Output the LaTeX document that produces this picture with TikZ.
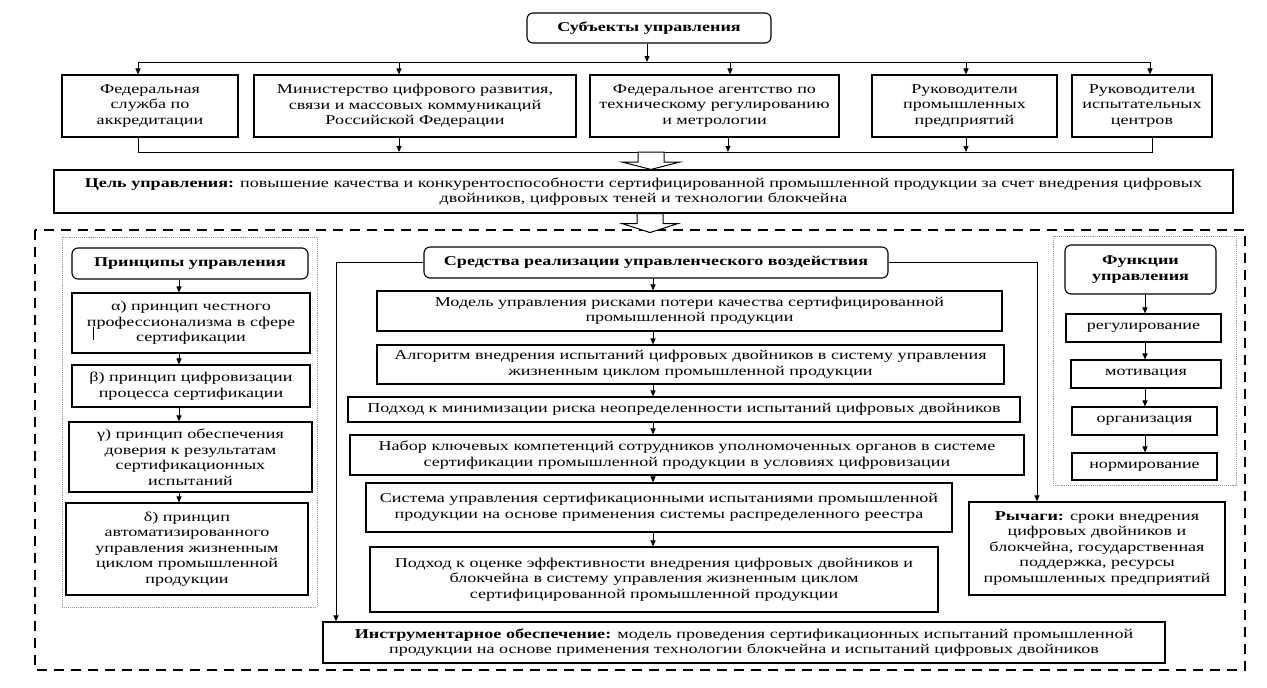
\documentclass[tikz,border=0pt]{standalone}
\usepackage{fontspec}
\setmainfont{Liberation Serif}[FakeStretch=1.34]
\usetikzlibrary{arrows.meta,calc}
\newcommand{\fs}{\fontsize{13.5}{15.5}\selectfont}
\begin{document}
\begin{tikzpicture}[x=1pt,y=-1pt,
 box/.style={draw,line width=1.1pt,align=center,inner sep=0pt,font=\fs},
 rbox/.style={box,rounded corners=6pt},
 arr/.style={line width=1pt,-{Triangle[length=6pt,width=5pt]}},
 ln/.style={line width=1pt},
 dotbox/.style={draw=gray!80,densely dotted,line width=0.9pt},
 hollow/.style={draw,line width=1pt,fill=white,line join=miter},
 bigdash/.style={draw,line width=2.2pt,dash pattern=on 10pt off 7pt},
]
\useasboundingbox (0,0) rectangle (1267,688);
\fill[white] (0,0) rectangle (1267,688);

% ---- top part
\node[rbox,minimum width=244pt,minimum height=30pt] (subj) at (649,28) {\textbf{Субъекты управления}};
\node[box,minimum width=176pt,minimum height=62pt] (f1) at (150,106) {Федеральная\\служба по\\аккредитации};
\node[box,minimum width=322pt,minimum height=62pt] (f2) at (415,106) {Министерство цифрового развития,\\связи и массовых коммуникаций\\Российской Федерации};
\node[box,minimum width=249pt,minimum height=62pt] (f3) at (714.5,106) {Федеральное агентство по\\техническому регулированию\\и метрологии};
\node[box,minimum width=185pt,minimum height=62pt] (f4) at (964.5,106) {Руководители\\промышленных\\предприятий};
\node[box,minimum width=140pt,minimum height=62pt] (f5) at (1142,106) {Руководители\\испытательных\\центров};
\node[box,minimum width=1179pt,minimum height=43pt] (goal) at (643.5,191.5) {\textbf{Цель управления:} повышение качества и конкурентоспособности сертифицированной промышленной продукции за счет внедрения цифровых\\двойников, цифровых теней и технологии блокчейна};

% top distribution line
\coordinate (t0) at (647,62);
\coordinate (a1) at (138,62);
\coordinate (a2) at (399,62);
\coordinate (a3) at (730,62);
\coordinate (a4) at (966,62);
\coordinate (a5) at (1150,62);
\draw[arr] (subj.south -| t0) -- (t0);
\draw[ln] (a1) -- (a5);
\draw[arr] (a1) -- (a1 |- f1.north);
\draw[arr] (a2) -- (a2 |- f2.north);
\draw[arr] (a3) -- (a3 |- f3.north);
\draw[arr] (a4) -- (a4 |- f4.north);
\draw[arr] (a5) -- (a5 |- f5.north);

% bottom collecting line
\coordinate (b1) at (138,152);
\coordinate (b2) at (399,152);
\coordinate (b3) at (728,152);
\coordinate (b4) at (966,152);
\coordinate (b5) at (1152,152);
\draw[ln] (b1 |- f1.south) -- (b1) -- (b5) -- (b5 |- f5.south);
\draw[arr] (b2 |- f2.south) -- (b2);
\draw[arr] (b3 |- f3.south) -- (b3);
\draw[arr] (b4 |- f4.south) -- (b4);

% hollow arrow 1
\coordinate (h1) at (651,152);
\draw[hollow] ($(h1)+(-13,0)$) -- ($(h1)+(13,0)$) -- ($(h1)+(13,10)$) -- ($(h1)+(29,10)$)
  -- (h1 |- goal.north) -- ($(h1)+(-29,10)$) -- ($(h1)+(-13,10)$) -- cycle;

% big dashed frame
\draw[bigdash] (35,230) rectangle (1245,670);

% hollow arrow 2
\coordinate (h2) at ($(goal.south)+(6.5,0)$);
\coordinate (h2t) at ($(h2)+(0,19)$);
\draw[hollow] ($(h2)+(-13,0)$) -- ($(h2)+(13,0)$) -- ($(h2)+(13,10)$) -- ($(h2)+(28,10)$)
  -- (h2t) -- ($(h2)+(-28,10)$) -- ($(h2)+(-13,10)$) -- cycle;

% ---- left column
\draw[dotbox] (62,237) rectangle (317,607);
\node[rbox,minimum width=236pt,minimum height=31pt] (princ) at (190,263.5) {\textbf{Принципы управления}};
\node[box,minimum width=238pt,minimum height=60pt] (p1) at (191,323) {α) принцип честного\\профессионализма в сфере\\сертификации};
\node[box,minimum width=238pt,minimum height=42pt] (p2) at (191,386) {β) принцип цифровизации\\процесса сертификации};
\node[box,minimum width=243pt,minimum height=70pt] (p3) at (190.5,457) {γ) принцип обеспечения\\доверия к результатам\\сертификационных\\испытаний};
\node[box,minimum width=242pt,minimum height=92pt] (p4) at (187,549) {δ) принцип\\автоматизированного\\управления жизненным\\циклом промышленной\\продукции};
\draw[line width=0.8pt] (93,327) -- (93,340);
\coordinate (lx) at (179,0);
\draw[arr] (princ.south -| lx) -- (p1.north -| lx);
\draw[arr] (p1.south -| lx) -- (p2.north -| lx);
\draw[arr] (p2.south -| lx) -- (p3.north -| lx);
\draw[arr] (p3.south -| lx) -- (p4.north -| lx);

% ---- middle column
\node[rbox,minimum width=464pt,minimum height=31pt] (means) at (656,262.5) {\textbf{Средства реализации управленческого воздействия}};
\node[box,minimum width=625pt,minimum height=40pt] (m1) at (689.5,311) {Модель управления рисками потери качества сертифицированной\\промышленной продукции};
\node[box,minimum width=627pt,minimum height=39pt] (m2) at (690.5,364.5) {Алгоритм внедрения испытаний цифровых двойников в систему управления\\жизненным циклом промышленной продукции};
\node[box,minimum width=672pt,minimum height=25pt] (m3) at (684,409.5) {Подход к минимизации риска неопределенности испытаний цифровых двойников};
\node[box,minimum width=674pt,minimum height=40pt] (m4) at (687,455) {Набор ключевых компетенций сотрудников уполномоченных органов в системе\\сертификации промышленной продукции в условиях цифровизации};
\node[box,minimum width=586pt,minimum height=49pt] (m5) at (659,507.5) {Система управления сертификационными испытаниями промышленной\\продукции на основе применения системы распределенного реестра};
\node[box,minimum width=568pt,minimum height=65pt] (m6) at (654,579.5) {Подход к оценке эффективности внедрения цифровых двойников и\\блокчейна в систему управления жизненным циклом\\сертифицированной промышленной продукции};
\node[box,minimum width=842pt,minimum height=41pt] (instr) at (744,642.5) {\textbf{Инструментарное обеспечение:} модель проведения сертификационных испытаний промышленной\\продукции на основе применения технологии блокчейна и испытаний цифровых двойников};
\node[box,minimum width=256pt,minimum height=93pt] (levers) at (1097,548.5) {\textbf{Рычаги:} сроки внедрения\\цифровых двойников и\\блокчейна, государственная\\поддержка, ресурсы\\промышленных предприятий};

\coordinate (mx) at (653,0);
\draw[arr] (means.south -| mx) -- (m1.north -| mx);
\draw[arr] (m1.south -| mx) -- (m2.north -| mx);
\draw[arr] (m2.south -| mx) -- (m3.north -| mx);
\draw[arr] (m3.south -| mx) -- (m4.north -| mx);
\draw[arr] (m4.south -| mx) -- (m5.north -| mx);
\draw[arr] (m5.south -| mx) -- (m6.north -| mx);

\coordinate (lL) at (336,0);
\coordinate (lR) at (1037,0);
\draw[arr] (means.west) -- (means.west -| lL) -- (lL |- instr.north);
\draw[arr] (means.east) -- (means.east -| lR) -- (lR |- levers.north);

% ---- right column
\draw[dotbox] (1053,236) rectangle (1236,485);
\node[rbox,minimum width=151pt,minimum height=49pt] (func) at (1140.5,269.5) {\textbf{Функции}\\\textbf{управления}};
\node[box,minimum width=155pt,minimum height=28pt] (fn1) at (1143.5,328) {регулирование};
\node[box,minimum width=150pt,minimum height=28pt] (fn2) at (1146,374) {мотивация};
\node[box,minimum width=145pt,minimum height=28pt] (fn3) at (1144.5,421) {организация};
\node[box,minimum width=145pt,minimum height=27pt] (fn4) at (1144.5,466.5) {нормирование};
\coordinate (rx) at (1145,0);
\draw[arr] (func.south -| rx) -- (fn1.north -| rx);
\draw[arr] (fn1.south -| rx) -- (fn2.north -| rx);
\draw[arr] (fn2.south -| rx) -- (fn3.north -| rx);
\draw[arr] (fn3.south -| rx) -- (fn4.north -| rx);
\end{tikzpicture}
\end{document}
